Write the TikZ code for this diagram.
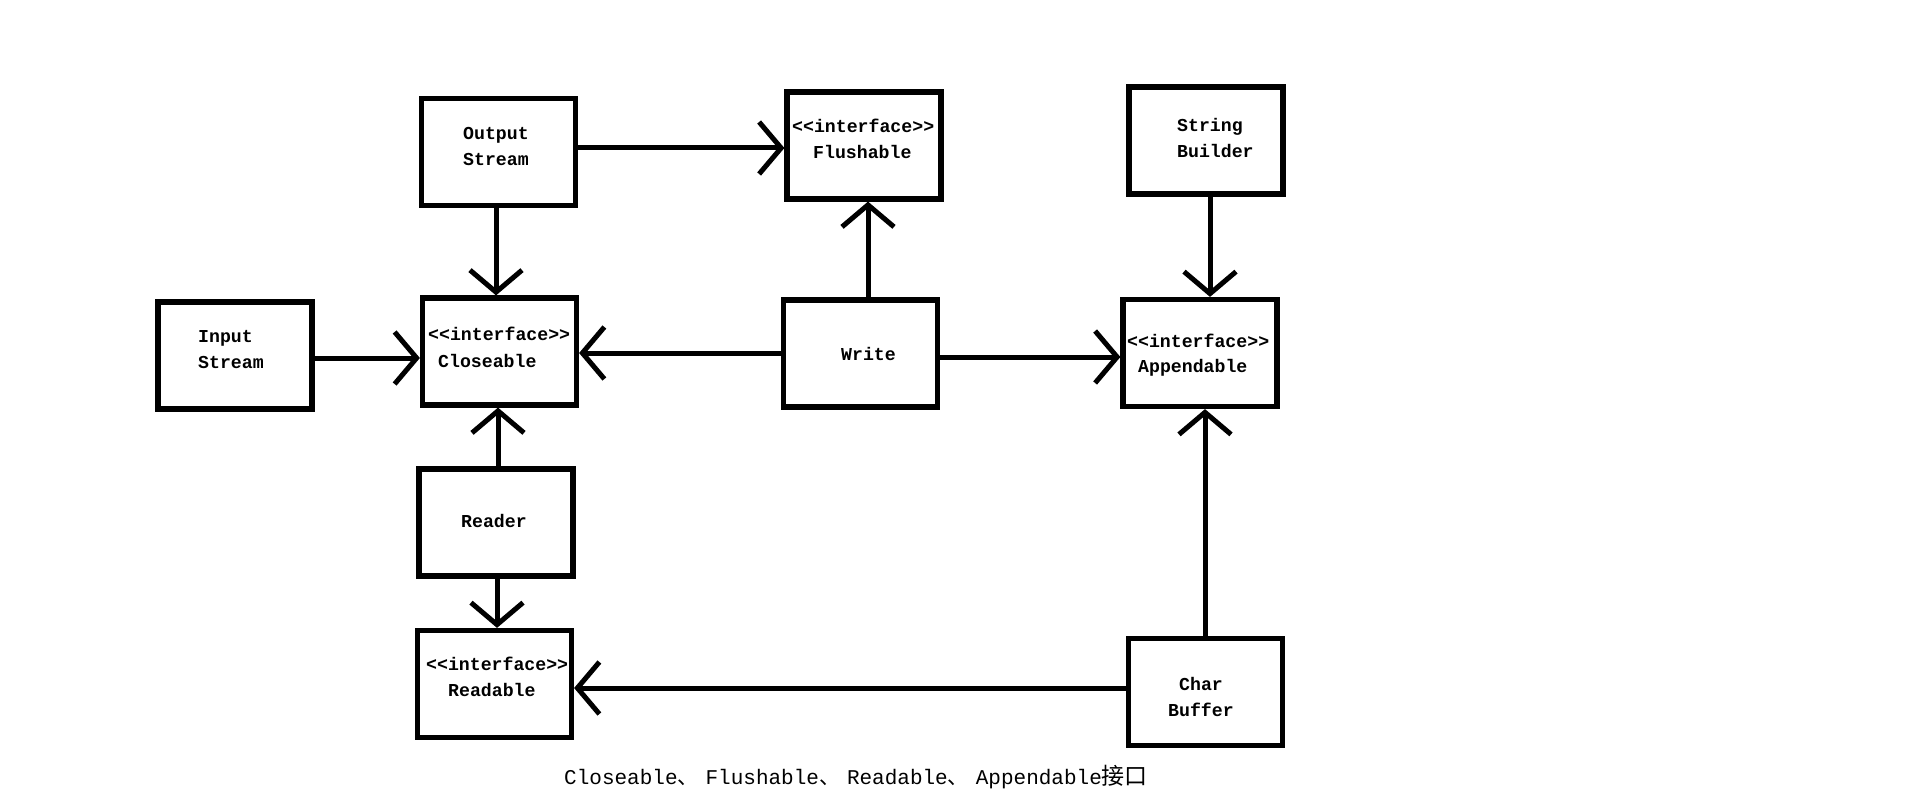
\documentclass[tikz,border=0pt]{standalone}
\usepackage{fontspec}
\newfontfamily\boxfont{Liberation Mono}
\newfontfamily\cjkfont{Noto Sans CJK SC}
\usetikzlibrary{arrows.meta}
\newcommand{\cjkcomma}{\makebox[28pt][l]{\cjkfont\fontsize{21}{24}\selectfont 、}}
\begin{document}
\begin{tikzpicture}[x=1pt,y=-1pt,
  box/.style={draw, line width=5.2pt, minimum width=154pt, minimum height=107pt, inner sep=0pt},
  lbl/.style={anchor=base west, inner sep=0pt, font=\boxfont\bfseries\fontsize{18.2}{20}\selectfont},
  captext/.style={anchor=base west, inner sep=0pt, font=\boxfont\fontsize{21}{24}\selectfont},
  arr/.style={line width=5pt, line cap=round, -{Straight Barb[length=22pt,width=52pt]}},
]
\fill[white] (0,0) rectangle (1914,802);
\useasboundingbox (0,0) rectangle (1914,802);

% boxes
\node[box] (OS) at (498.5,152) {};
\node[box] (FL) at (864,145.5) {};
\node[box] (SB) at (1206,140.5) {};
\node[box] (IS) at (235,355.5) {};
\node[box] (CL) at (499.5,351.5) {};
\node[box] (WR) at (860.5,353.5) {};
\node[box] (AP) at (1200,353) {};
\node[box] (RD) at (496,522.5) {};
\node[box] (RA) at (494.5,684) {};
\node[box] (CB) at (1205.5,692) {};

% texts
\node[lbl] (os1) at (463,140) {Output};
\node[lbl] (os2) at (463,166) {Stream};
\node[lbl] (fl1) at (792,133) {<{}<interface>{}>};
\node[lbl] (fl2) at (813,159) {Flushable};
\node[lbl] (sb1) at (1177,132) {String};
\node[lbl] (sb2) at (1177,158) {Builder};
\node[lbl] (is1) at (198,342) {Input};
\node[lbl] (is2) at (198,368) {Stream};
\node[lbl] (cl1) at (428,340) {<{}<interface>{}>};
\node[lbl] (cl2) at (438,367) {Closeable};
\node[lbl] (wr1) at (841,360) {Write};
\node[lbl] (ap1) at (1127,347) {<{}<interface>{}>};
\node[lbl] (ap2) at (1138,372) {Appendable};
\node[lbl] (rd1) at (461,527) {Reader};
\node[lbl] (ra1) at (426,670) {<{}<interface>{}>};
\node[lbl] (ra2) at (448,696) {Readable};
\node[lbl] (cb1) at (1179,690) {Char};
\node[lbl] (cb2) at (1168,716) {Buffer};
\node[captext] (caption) at (564,784) {Closeable\cjkcomma Flushable\cjkcomma Readable\cjkcomma Appendable{\cjkfont\fontsize{23}{24}\selectfont 接口}};

% connectors
\draw[arr] (OS.east |- 0,148) -- (FL.west |- 0,148);
\draw[arr] (OS.south -| 496,0) -- (CL.north -| 496,0);
\draw[arr] (IS.east |- 0,358) -- (CL.west |- 0,358);
\draw[arr] (WR.west |- 0,353) -- (CL.east |- 0,353);
\draw[arr] (WR.north -| 868,0) -- (FL.south -| 868,0);
\draw[arr] (WR.east |- 0,357) -- (AP.west |- 0,357);
\draw[arr] (SB.south -| 1210,0) -- (AP.north -| 1210,0);
\draw[arr] (RD.north -| 498,0) -- (CL.south -| 498,0);
\draw[arr] (RD.south -| 497,0) -- (RA.north -| 497,0);
\draw[arr] (CB.west |- 0,688) -- (RA.east |- 0,688);
\draw[arr] (CB.north -| 1205,0) -- (AP.south -| 1205,0);
\end{tikzpicture}
\end{document}
